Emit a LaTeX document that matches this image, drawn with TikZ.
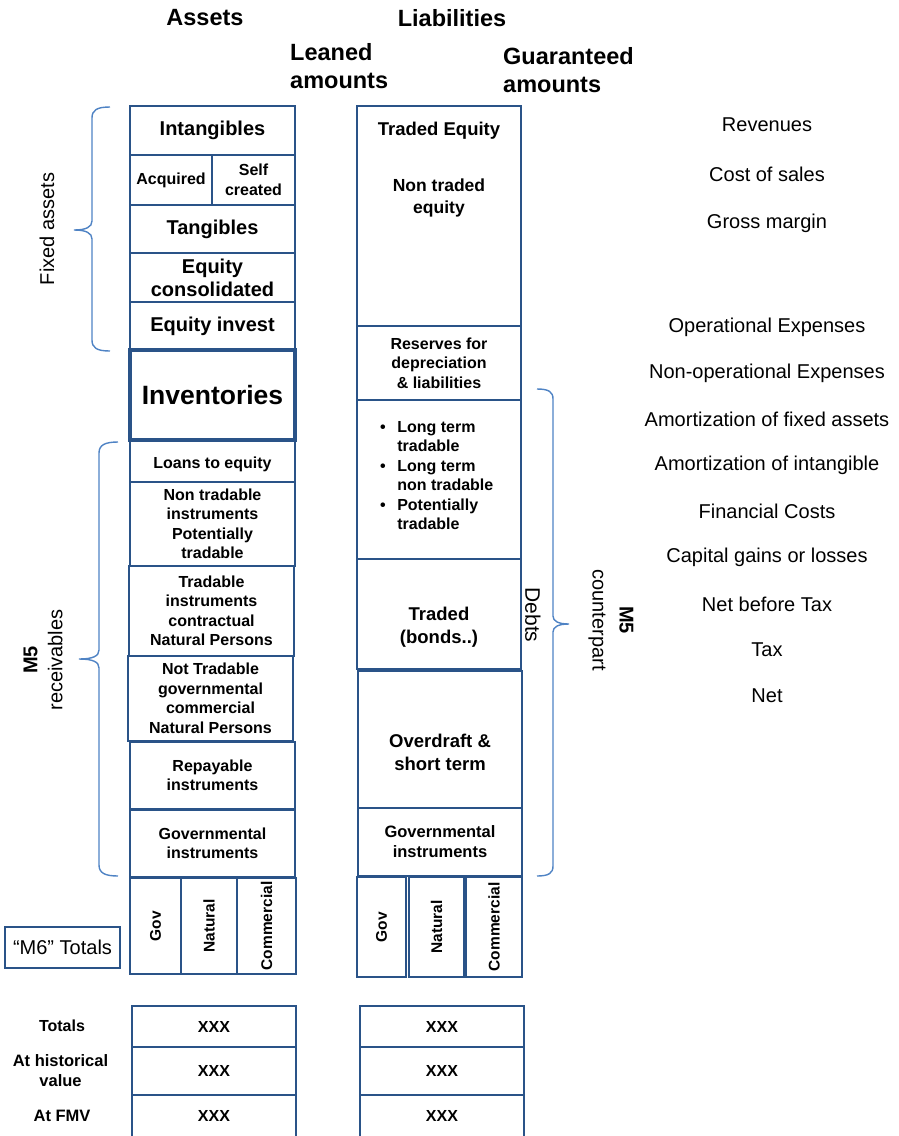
\documentclass[tikz,border=0pt]{standalone}
\usepackage{fontspec}
\setmainfont{Liberation Sans}
\definecolor{boxblue}{HTML}{2A5388}
\definecolor{braceblue}{HTML}{4F83C4}
\newcommand\fsz[2]{\fontsize{#1}{#2}\selectfont}
\begin{document}
\begin{tikzpicture}[x=1pt,y=-1pt,
  span/.style n args={4}{minimum width={(#3)-(#1)}, minimum height={(#4)-(#2)},
    at={({((#1)+(#3))/2},{((#2)+(#4))/2})}},
  cell/.style={draw=boxblue, line width=1.6pt, inner sep=0pt, align=center, font=\bfseries\fsz{16}{19.5}},
  bigcell/.style={cell, font=\bfseries\fsz{20}{23}},
  thickcell/.style={cell, line width=3.5pt, font=\bfseries\fsz{26.5}{30}},
  boldtxt/.style={inner sep=0pt, align=center, font=\bfseries\fsz{16}{19.5}},
  midtxt/.style={inner sep=0pt, align=center, font=\bfseries\fsz{18.5}{23}},
  plain/.style={inner sep=0pt, align=center, font=\fsz{20}{23}},
  head/.style={inner sep=0pt, align=left, font=\bfseries\fsz{23.5}{28}},
  vert/.style={inner sep=0pt, rotate=90, font=\bfseries\fsz{15.5}{18}},
  brace/.style={draw=braceblue, line width=1.4pt}]
\useasboundingbox (0,0) rectangle (898,1136);

% column headings
\node[head] (hassets) at (205,18) {Assets};
\node[head] (hliab) at (452,18) {Liabilities};
\node[head, anchor=west] (hleaned) at (290,66) {Leaned\\amounts};
\node[head, anchor=west] (hguar) at (503,70) {Guaranteed\\amounts};

% asset column
\node[bigcell, span={130}{106}{295}{155}] (intang) {Intangibles};
\node[cell, span={130}{155}{212}{205}] (acq) {Acquired};
\node[cell, span={212}{155}{295}{205}] (selfc) {Self\\created};
\node[bigcell, span={130}{205}{295}{253}] (tang) {Tangibles};
\node[bigcell, span={130}{253}{295}{302}] (eqcons) {Equity\\consolidated};
\node[bigcell, span={130}{302}{295}{350}] (eqinv) {Equity invest};
\node[thickcell, span={130}{350}{295}{440}] (inv) {Inventories};
\node[cell, span={130}{440}{295}{482}] (loans) {};
\node[boldtxt] (loanst) at (212.5,464) {Loans to equity};
\node[cell, span={130}{482}{295}{566}] (nontrad) {Non tradable\\instruments\\Potentially\\tradable};
\node[cell, span={129}{566}{294}{656}] (trad) {Tradable\\instruments\\contractual\\Natural Persons};
\node[cell, span={128}{656}{293}{741}] (nottrad) {Not Tradable\\governmental\\commercial\\Natural Persons};
\node[cell, span={130}{742}{295}{809}] (repay) {Repayable\\instruments};
\node[cell, span={130}{810}{295}{877}] (gova) {Governmental\\instruments};

% asset counterparties
\node[cell, span={130}{878}{181}{974}] (agov) {};
\node[cell, span={181}{878}{237}{974}] (anat) {};
\node[cell, span={237}{878}{296}{974}] (acom) {};
\node[vert] (agovt) at (agov.center) {Gov};
\node[vert] (anatt) at (anat.center) {Natural};
\node[vert] (acomt) at (acom.center) {Commercial};

% liability column
\node[cell, span={357}{106}{521}{326}] (equity) {};
\node[midtxt] (tradeq) at (439,131) {Traded Equity};
\node[inner sep=0pt, align=center, font=\bfseries\fsz{17.5}{22}] (ntradeq) at (439,198) {Non traded\\equity};
\node[cell, span={357}{326}{521}{400}] (reserves) {Reserves for\\depreciation\\\& liabilities};
\node[cell, span={357}{400}{521}{559}] (longterm) {};
\node[boldtxt, anchor=west, align=left] (ltlist) at (380,477)
  {\begin{tabular}{@{}l@{\hspace{11.5pt}}l@{}}
   \textbullet & Long term\\
               & tradable\\
   \textbullet & Long term\\
               & non tradable\\
   \textbullet & Potentially\\
               & tradable
   \end{tabular}};
\node[cell, span={357}{559}{521}{669}] (bonds) {};
\node[midtxt] (bondst) at (439,627) {Traded\\(bonds..)};
\node[cell, span={358}{671}{522}{808}] (overd) {};
\node[midtxt] (overdt) at (440,752) {Overdraft \&\\short term};
\node[cell, font=\bfseries\fsz{16.5}{20}, span={358}{808}{522}{876}] (govl) {Governmental\\instruments};

% liability counterparties
\node[cell, span={357}{877}{406}{977}] (lgov) {};
\node[cell, span={409}{877}{464}{977}] (lnat) {};
\node[cell, span={466}{877}{522}{977}] (lcom) {};
\node[vert] (lgovt) at (lgov.center) {Gov};
\node[vert] (lnatt) at (lnat.center) {Natural};
\node[vert] (lcomt) at (lcom.center) {Commercial};

% M6 totals
\node[draw=boxblue, line width=1.6pt, inner sep=0pt, font=\fsz{20}{23}, span={5}{927}{120}{968}] (m6) {“M6” Totals};

% totals rows
\node[boldtxt] (ltot) at (62,1026) {Totals};
\node[boldtxt, font=\bfseries\fsz{16.5}{20}] (lhist) at (60.5,1071) {At historical\\value};
\node[boldtxt, font=\bfseries\fsz{16.5}{20}] (lfmv) at (62,1116) {At FMV};
\node[cell, span={132}{1006}{296}{1047}] (at1) {XXX};
\node[cell, span={132}{1047}{296}{1095}] (at2) {XXX};
\node[cell, span={132}{1095}{296}{1140}] (at3) {};
\node[boldtxt] (at3t) at (214,1116) {XXX};
\node[cell, span={360}{1006}{524}{1047}] (lt1) {XXX};
\node[cell, span={360}{1047}{524}{1095}] (lt2) {XXX};
\node[cell, span={360}{1095}{524}{1140}] (lt3) {};
\node[boldtxt] (lt3t) at (442,1116) {XXX};

% braces and their labels
\draw[brace] (110,107) .. controls (97,107) and (92,110) .. (92,118) -- (92,221)
  .. controls (92,227) and (86,230) .. (74,230) .. controls (86,230) and (92,233) .. (92,239)
  -- (92,340) .. controls (92,348) and (97,351) .. (110,351);
\node[inner sep=0pt, rotate=90, font=\fsz{20}{23}] (fixed) at (47,229) {Fixed assets};

\draw[brace] (118,442) .. controls (105,442) and (99,445) .. (99,453) -- (99,650)
  .. controls (99,656) and (93,659) .. (79,659) .. controls (93,659) and (99,662) .. (99,668)
  -- (99,865) .. controls (99,873) and (105,876) .. (118,876);
\node[inner sep=0pt, rotate=90, align=center, font=\fsz{20}{25}] (m5r) at (43,660) {\textbf{M5}\\receivables};

\draw[brace] (537,389) .. controls (549,389) and (553,392) .. (553,399) -- (553,616)
  .. controls (553,621) and (558,624) .. (569,624) .. controls (558,624) and (553,627) .. (553,632)
  -- (553,866) .. controls (553,873) and (549,876) .. (537,876);
\node[inner sep=0pt, rotate=-90, font=\fsz{21}{24}] (debts) at (533,615) {Debts};
\node[inner sep=0pt, rotate=-90, align=center, font=\fsz{20}{27}] (m5c) at (611,620) {\textbf{M5}\\counterpart};

% income statement lines
\node[plain] (rev) at (767,125) {Revenues};
\node[plain] (cos) at (767,174) {Cost of sales};
\node[plain] (gm) at (767,223) {Gross margin};
\node[plain] (opex) at (767,327) {Operational Expenses};
\node[plain] (nopex) at (767,373) {Non-operational Expenses};
\node[plain] (amfa) at (767,419) {Amortization of fixed assets};
\node[plain] (amint) at (767,465) {Amortization of intangible};
\node[plain] (fin) at (767,511) {Financial Costs};
\node[plain] (cap) at (767,557) {Capital gains or losses};
\node[plain] (nbt) at (767,604) {Net before Tax};
\node[plain] (tax) at (767,650) {Tax};
\node[plain] (net) at (767,696) {Net};
\end{tikzpicture}
\end{document}
